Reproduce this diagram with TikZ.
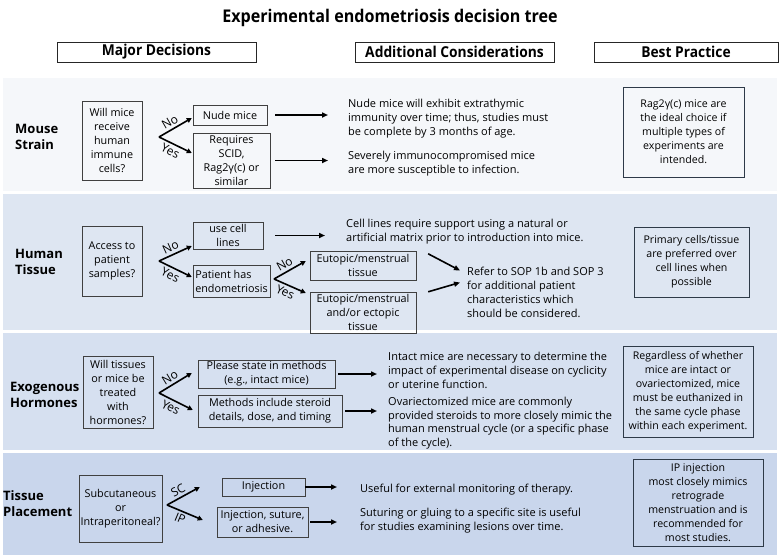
\documentclass[tikz,border=0pt]{standalone}
\usepackage{fontspec}
\setmainfont{Open Sans}
\newfontfamily\condfont[FakeStretch=0.92]{Open Sans}
\usepackage{tikz}
\usetikzlibrary{arrows.meta, positioning, calc}

\definecolor{strainbg}{HTML}{F5F7FA}
\definecolor{tissuebg}{HTML}{DEE6F2}
\definecolor{hormonebg}{HTML}{D6E0F0}
\definecolor{sitebg}{HTML}{C9D6EC}
\definecolor{boxline}{HTML}{404040}
\definecolor{practiceline}{HTML}{2E3A48}

\newcommand{\bodysize}{\fontsize{10.8}{14}\selectfont}
\newcommand{\notesize}{\fontsize{11}{14}\selectfont}
\newcommand{\bestsize}{\fontsize{10.6}{14}\selectfont}

\begin{document}
\begin{tikzpicture}[
				x=1pt, y=-1pt,
				% Defining node styles
				title/.style={font=\condfont\bfseries\fontsize{17.5}{20}\selectfont, inner sep=0pt},
				header/.style={rectangle, draw=black!85, fill=white, minimum height=20, inner sep=0pt, font=\condfont\bfseries\fontsize{15}{17}\selectfont},
				rowlabel/.style={anchor=west, align=left, inner sep=0pt, font=\bfseries\fontsize{13}{16}\selectfont},
				decision/.style={rectangle, draw=boxline, align=center, inner sep=1pt, font=\bodysize},
				choice/.style={rectangle, draw=boxline, align=center, inner sep=1pt, font=\bodysize},
				note/.style={anchor=west, align=left, inner sep=0pt, font=\notesize},
				practice/.style={rectangle, draw=practiceline, semithick, align=center, inner sep=1pt, font=\bestsize},
				fork/.style={-{Triangle[length=5pt, width=5pt]}, line width=1.6pt},
				connector/.style={-{Triangle[length=6pt, width=5pt]}, line width=1.6pt},
				branch/.style={sloped, inner sep=2.5pt, pos=0.45, font=\fontsize{12}{13}\selectfont}
			]
			\useasboundingbox (0,0) rectangle (780,560);

			% Background bands
			\fill[strainbg] (3,78) rectangle (777,191);
			\fill[tissuebg] (3,194) rectangle (777,330);
			\fill[hormonebg] (3,333) rectangle (777,450);
			\fill[sitebg] (3,453) rectangle (777,555);

			% Title and column headers
			\node[title] (title) at (390,18) {Experimental endometriosis decision tree};
			\node[header, minimum width=199] (hmajor) at (156.5,52) {Major Decisions};
			\node[header, minimum width=199] (hadd) at (454.5,52) {Additional Considerations};
			\node[header, minimum width=184] (hbest) at (686,52) {Best Practice};

			% Mouse strain
			\node[rowlabel] (strain) at (15,137) {Mouse\\Strain};
			\node[decision, minimum width=60, minimum height=79] (qmice) at (112,140.5) {Will mice\\receive\\human\\immune\\cells?};
			\coordinate (fmice) at (159,137);
			\node[choice, minimum width=74, minimum height=20] (nude) at (230,115) {Nude mice};
			\node[choice, minimum width=77, minimum height=55] (scid) at (231.5,160.5) {Requires\\SCID,\\Rag2γ(c) or\\similar};
			\node[note] (nudenote) at (348,119) {Nude mice will exhibit extrathymic\\immunity over time; thus, studies must\\be complete by 3 months of age.};
			\node[note] (scidnote) at (348,164) {Severely immunocompromised mice\\are more susceptible to infection.};
			\node[practice, minimum width=121, minimum height=90] (bstrain) at (683.5,132) {Rag2γ(c) mice are\\the ideal choice if\\multiple types of\\experiments are\\intended.};

			\draw[fork] (fmice) -- node[branch, above] {No} ([shift={(-1,3)}]nude.west);
			\draw[fork] (fmice) -- node[branch, below] {Yes} ([shift={(-1,-7.5)}]scid.west);
			\draw[connector] ([xshift=8]nude.east) -- ([xshift=-20]nude.east -| nudenote.west);
			\draw[connector] ([xshift=5]scid.east) -- ([xshift=-20]scid.east -| scidnote.west);

			% Human tissue
			\node[rowlabel] (tissue) at (15,262) {Human\\Tissue};
			\node[decision, minimum width=60, minimum height=70] (qpatient) at (112,261) {Access to\\patient\\samples?};
			\coordinate (fpatient) at (159,261);
			\node[choice, minimum width=70, minimum height=27] (lines) at (228,235.5) {use cell\\lines};
			\node[choice, minimum width=77, minimum height=32, align=left] (endo) at (231.5,281) {Patient has\\endometriosis};
			\coordinate (fendo) at (274,279);
			\node[choice, minimum width=106, minimum height=29] (eutopic) at (363,265.5) {Eutopic/menstrual\\tissue};
			\node[choice, minimum width=106, minimum height=41] (ectopic) at (363,312.5) {Eutopic/menstrual\\and/or ectopic\\tissue};
			\node[note] (linesnote) at (346,231.5) {Cell lines require support using a natural or\\artificial matrix prior to introduction into mice.};
			\node[note] (sopnote) at (467,292.5) {Refer to SOP 1b and SOP 3\\for additional patient\\characteristics which\\should be considered.};
			\node[practice, minimum width=115, minimum height=70] (btissue) at (691.5,262) {Primary cells/tissue\\are preferred over\\cell lines when\\possible};

			\draw[fork] (fpatient) -- node[branch, above] {No} ([shift={(-1,10.5)}]lines.west);
			\draw[fork] (fpatient) -- node[branch, below] {Yes} ([shift={(-1,-4)}]endo.west);
			\draw[connector] ([xshift=12]lines.east) -- ([xshift=-21]lines.east -| linesnote.west);
			\draw[fork] (fendo) -- node[branch, above] {No} ([shift={(-4,-4.5)}]eutopic.west);
			\draw[fork] (fendo) -- node[branch, below] {Yes} ([shift={(-4,-19.5)}]ectopic.west);
			\draw[connector] ([shift={(12,3)}]eutopic.north east) -- ([shift={(-7,-22)}]sopnote.west);
			\draw[connector] ([xshift=12]ectopic.north east) -- ([shift={(-7,-10)}]sopnote.west);

			% Exogenous hormones
			\node[rowlabel] (hormones) at (10,394.5) {Exogenous\\Hormones};
			\node[decision, minimum width=70, minimum height=72] (qhormone) at (118,392) {Will tissues\\or mice be\\treated\\with\\hormones?};
			\coordinate (fhormone) at (159,393);
			\node[choice, minimum width=137, minimum height=28] (state) at (266.5,374) {Please state in methods\\(e.g., intact mice)};
			\node[choice, minimum width=144, minimum height=32] (steroid) at (270,411) {Methods include steroid\\details, dose, and timing};
			\node[note] (intactnote) at (388,370.5) {Intact mice are necessary to determine the\\impact of experimental disease on cyclicity\\or uterine function.};
			\node[note, font=\fontsize{11}{13.5}\selectfont] (ovxnote) at (388,423) {Ovariectomized mice are commonly\\provided steroids to more closely mimic the\\human menstrual cycle (or a specific phase\\of the cycle).};
			\node[practice, minimum width=130, minimum height=91] (bhormone) at (688,391.5) {Regardless of whether\\mice are intact or\\ovariectomized, mice\\must be euthanized in\\the same cycle phase\\within each experiment.};

			\draw[fork] (fhormone) -- node[branch, above] {No} ([shift={(-6,-1)}]state.west);
			\draw[fork] (fhormone) -- node[branch, below] {Yes} ([shift={(-5,-1)}]steroid.west);
			\draw[connector] ([xshift=3]state.east) -- ([xshift=-11]state.east -| intactnote.west);
			\draw[connector] ([xshift=3]steroid.east) -- ([xshift=-11]steroid.east -| ovxnote.west);

			% Tissue placement
			\node[rowlabel] (placement) at (3,504) {Tissue\\Placement};
			\node[decision, minimum width=83, minimum height=67] (qsite) at (120.5,508.5) {Subcutaneous\\or\\Intraperitoneal?};
			\coordinate (fsite) at (167,505);
			\node[choice, minimum width=83, minimum height=18] (inject) at (263.5,487) {Injection};
			\node[choice, minimum width=91, minimum height=30] (suture) at (262.5,522) {Injection, suture,\\or adhesive.};
			\node[note] (injectnote) at (360,490) {Useful for external monitoring of therapy.};
			\node[note] (suturenote) at (360,520.5) {Suturing or gluing to a specific site is useful\\for studies examining lesions over time.};
			\node[practice, minimum width=130, minimum height=87] (bsite) at (698,502.5) {IP injection\\most closely mimics\\retrograde\\menstruation and is\\recommended for\\most studies.};

			\draw[fork] (fsite) -- node[branch, above] {SC} ([xshift=-22]inject.west);
			\draw[fork] (fsite) -- node[branch, below] {IP} ([shift={(-14,-2)}]suture.west);
			\draw[connector] (inject.east) -- ([xshift=-23]inject.east -| injectnote.west);
			\draw[connector] ([xshift=2]suture.east) -- ([xshift=-23]suture.east -| suturenote.west);

		\end{tikzpicture}
\end{document}
